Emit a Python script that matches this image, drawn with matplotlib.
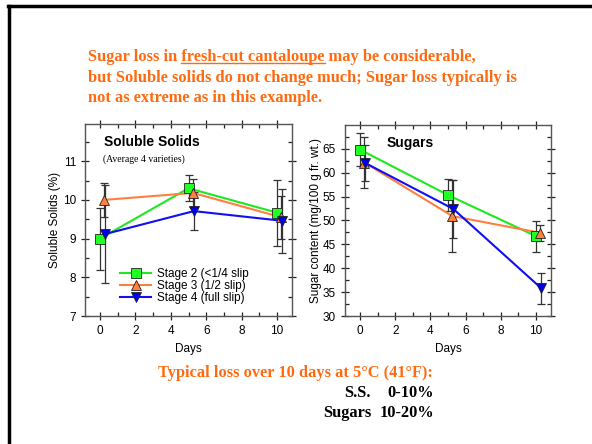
import matplotlib
matplotlib.use("Agg")
import matplotlib.pyplot as plt
from matplotlib.lines import Line2D
from matplotlib.ticker import MultipleLocator

# data
days = [0, 5, 10]
shift = [0.0, 0.25, 0.3]          # small horizontal offsets used in the original
stages = ["Stage 2 (<1/4 slip", "Stage 3 (1/2 slip)", "Stage 4 (full slip)"]

ss_mean = [[9.0, 10.3, 9.67], [10.0, 10.18, 9.55], [9.12, 9.71, 9.46]]
ss_err = [[0.8, 0.34, 0.85], [0.44, 0.37, 0.55], [1.26, 0.5, 0.82]]

sug_mean = [[64.8, 55.3, 46.7], [62.1, 50.9, 47.4], [62.0, 52.4, 35.8]]
sug_err = [[3.4, 3.4, 3.2], [5.4, 7.5, 1.6], [3.8, 6.0, 3.2]]

line_col = ["#1ee81e", "#ff7f40", "#1010f0"]
face_col = ["#22ff22", "#ff8040", "#0000e8"]
marks = ["s", "^", "v"]

orange = "#ff6a10"
serif = "Liberation Serif"
sans = "Liberation Sans"
big = 11.8

fig = plt.figure(figsize=(5.92, 4.44), dpi=100)


def style(ax, ylim, ymaj, ymin):
    ax.set_xlim(-0.85, 10.85)
    ax.set_ylim(*ylim)
    ax.xaxis.set_major_locator(MultipleLocator(2))
    ax.xaxis.set_minor_locator(MultipleLocator(1))
    ax.yaxis.set_major_locator(MultipleLocator(ymaj))
    ax.yaxis.set_minor_locator(MultipleLocator(ymin))
    ax.tick_params(which="both", top=True, right=True, labelsize=8.5,
                   color="#222222", width=0.9)
    ax.tick_params(which="major", direction="inout", length=6)
    ax.tick_params(which="minor", direction="in", length=3)
    for t in ax.get_xticklabels() + ax.get_yticklabels():
        t.set_fontfamily(sans)
    for s in ax.spines.values():
        s.set_color("#555555")
        s.set_linewidth(1.0)
    ax.set_xlabel("Days", fontsize=8.5, family=sans, labelpad=4)


def draw(ax, means, errs):
    for i in range(3):
        xs = [d + shift[i] for d in days]
        ax.errorbar(xs, means[i], yerr=errs[i], fmt="none", ecolor="#333333",
                    elinewidth=0.9, capsize=2.6, capthick=0.9, zorder=2)
        ax.plot(xs, means[i], color=line_col[i], lw=1.5, zorder=3)
        ax.plot(xs, means[i], ls="none", marker=marks[i], ms=6.5,
                mfc=face_col[i], mec="#222222", mew=0.6, zorder=4)


ax1 = fig.add_axes([0.1436, 0.288, 0.3497, 0.432])
draw(ax1, ss_mean, ss_err)
style(ax1, (7, 11.95), 1, 0.5)
ax1.set_ylabel("Soluble Solids (%)", fontsize=8.5, family=sans, labelpad=1)
ax1.text(0.09, 0.91, "Soluble Solids", transform=ax1.transAxes,
         fontsize=10, fontweight="bold", family=sans, va="center")
ax1.text(0.085, 0.82, "(Average 4 varieties)", transform=ax1.transAxes,
         fontsize=7, family=serif, va="center")
handles = [Line2D([], [], color=line_col[i], lw=1.5, marker=marks[i], ms=6.5,
                  mfc=face_col[i], mec="#222222", mew=0.6) for i in range(3)]
ax1.legend(handles, stages, loc="lower left", bbox_to_anchor=(0.13, 0.02),
           frameon=False, prop={"family": sans, "size": 8.5},
           handlelength=2.6, handletextpad=0.5, labelspacing=0.0,
           borderpad=0.2)

ax2 = fig.add_axes([0.5828, 0.288, 0.348, 0.430])
draw(ax2, sug_mean, sug_err)
style(ax2, (30, 69.9), 5, 2.5)
ax2.set_ylabel("Sugar content (mg/100 g fr. wt.)", fontsize=8.5, family=sans,
               labelpad=0.5)
ax2.text(0.2, 0.905, "Sugars", transform=ax2.transAxes,
         fontsize=10, fontweight="bold", family=sans, va="center")

# headline text with underlined part
head = ["Sugar loss in fresh-cut cantaloupe may be considerable,",
        "but Soluble solids do not change much; Sugar loss typically is",
        "not as extreme as in this example."]
x0 = 88 / 592
ys = [1 - 61 / 444, 1 - 81.5 / 444, 1 - 102 / 444]
kw = dict(fontsize=big, fontweight="bold", family=serif, color=orange,
          va="baseline")
for txt, y in zip(head, ys):
    fig.text(x0, y, txt, **kw)

r = fig.canvas.get_renderer()
pre = fig.text(x0, 0, "Sugar loss in ", alpha=0, **kw)
full = fig.text(x0, 0, "Sugar loss in fresh-cut cantaloupe", alpha=0, **kw)
xa = x0 + pre.get_window_extent(r).width / fig.bbox.width
xb = x0 + full.get_window_extent(r).width / fig.bbox.width
yu = ys[0] - 2.5 / 444
fig.add_artist(Line2D([xa, xb], [yu, yu], color=orange, lw=1.0,
                      transform=fig.transFigure))

fig.text(158 / 592, 1 - 373 / 444, "Typical loss over 10 days at 5\u00b0C (41\u00b0F):",
         fontsize=big, fontweight="bold", family=serif, color=orange,
         va="center")
for lab, val, y in [("S.S.", "0-10%", 393), ("Sugars", "10-20%", 413)]:
    fig.text(371 / 592, 1 - y / 444, lab, fontsize=big, fontweight="bold",
             family=serif, ha="right", va="center")
    fig.text(434 / 592, 1 - y / 444, val, fontsize=big, fontweight="bold",
             family=serif, ha="right", va="center")

# slide frame: top and left edges only
fig.add_artist(Line2D([8 / 592, 1], [1 - 6 / 444, 1 - 6 / 444], color="black",
                      lw=2.5, transform=fig.transFigure))
fig.add_artist(Line2D([9 / 592, 9 / 592], [0, 1 - 6 / 444], color="black",
                      lw=2.5, transform=fig.transFigure))

fig.savefig("out.png", dpi=100)
